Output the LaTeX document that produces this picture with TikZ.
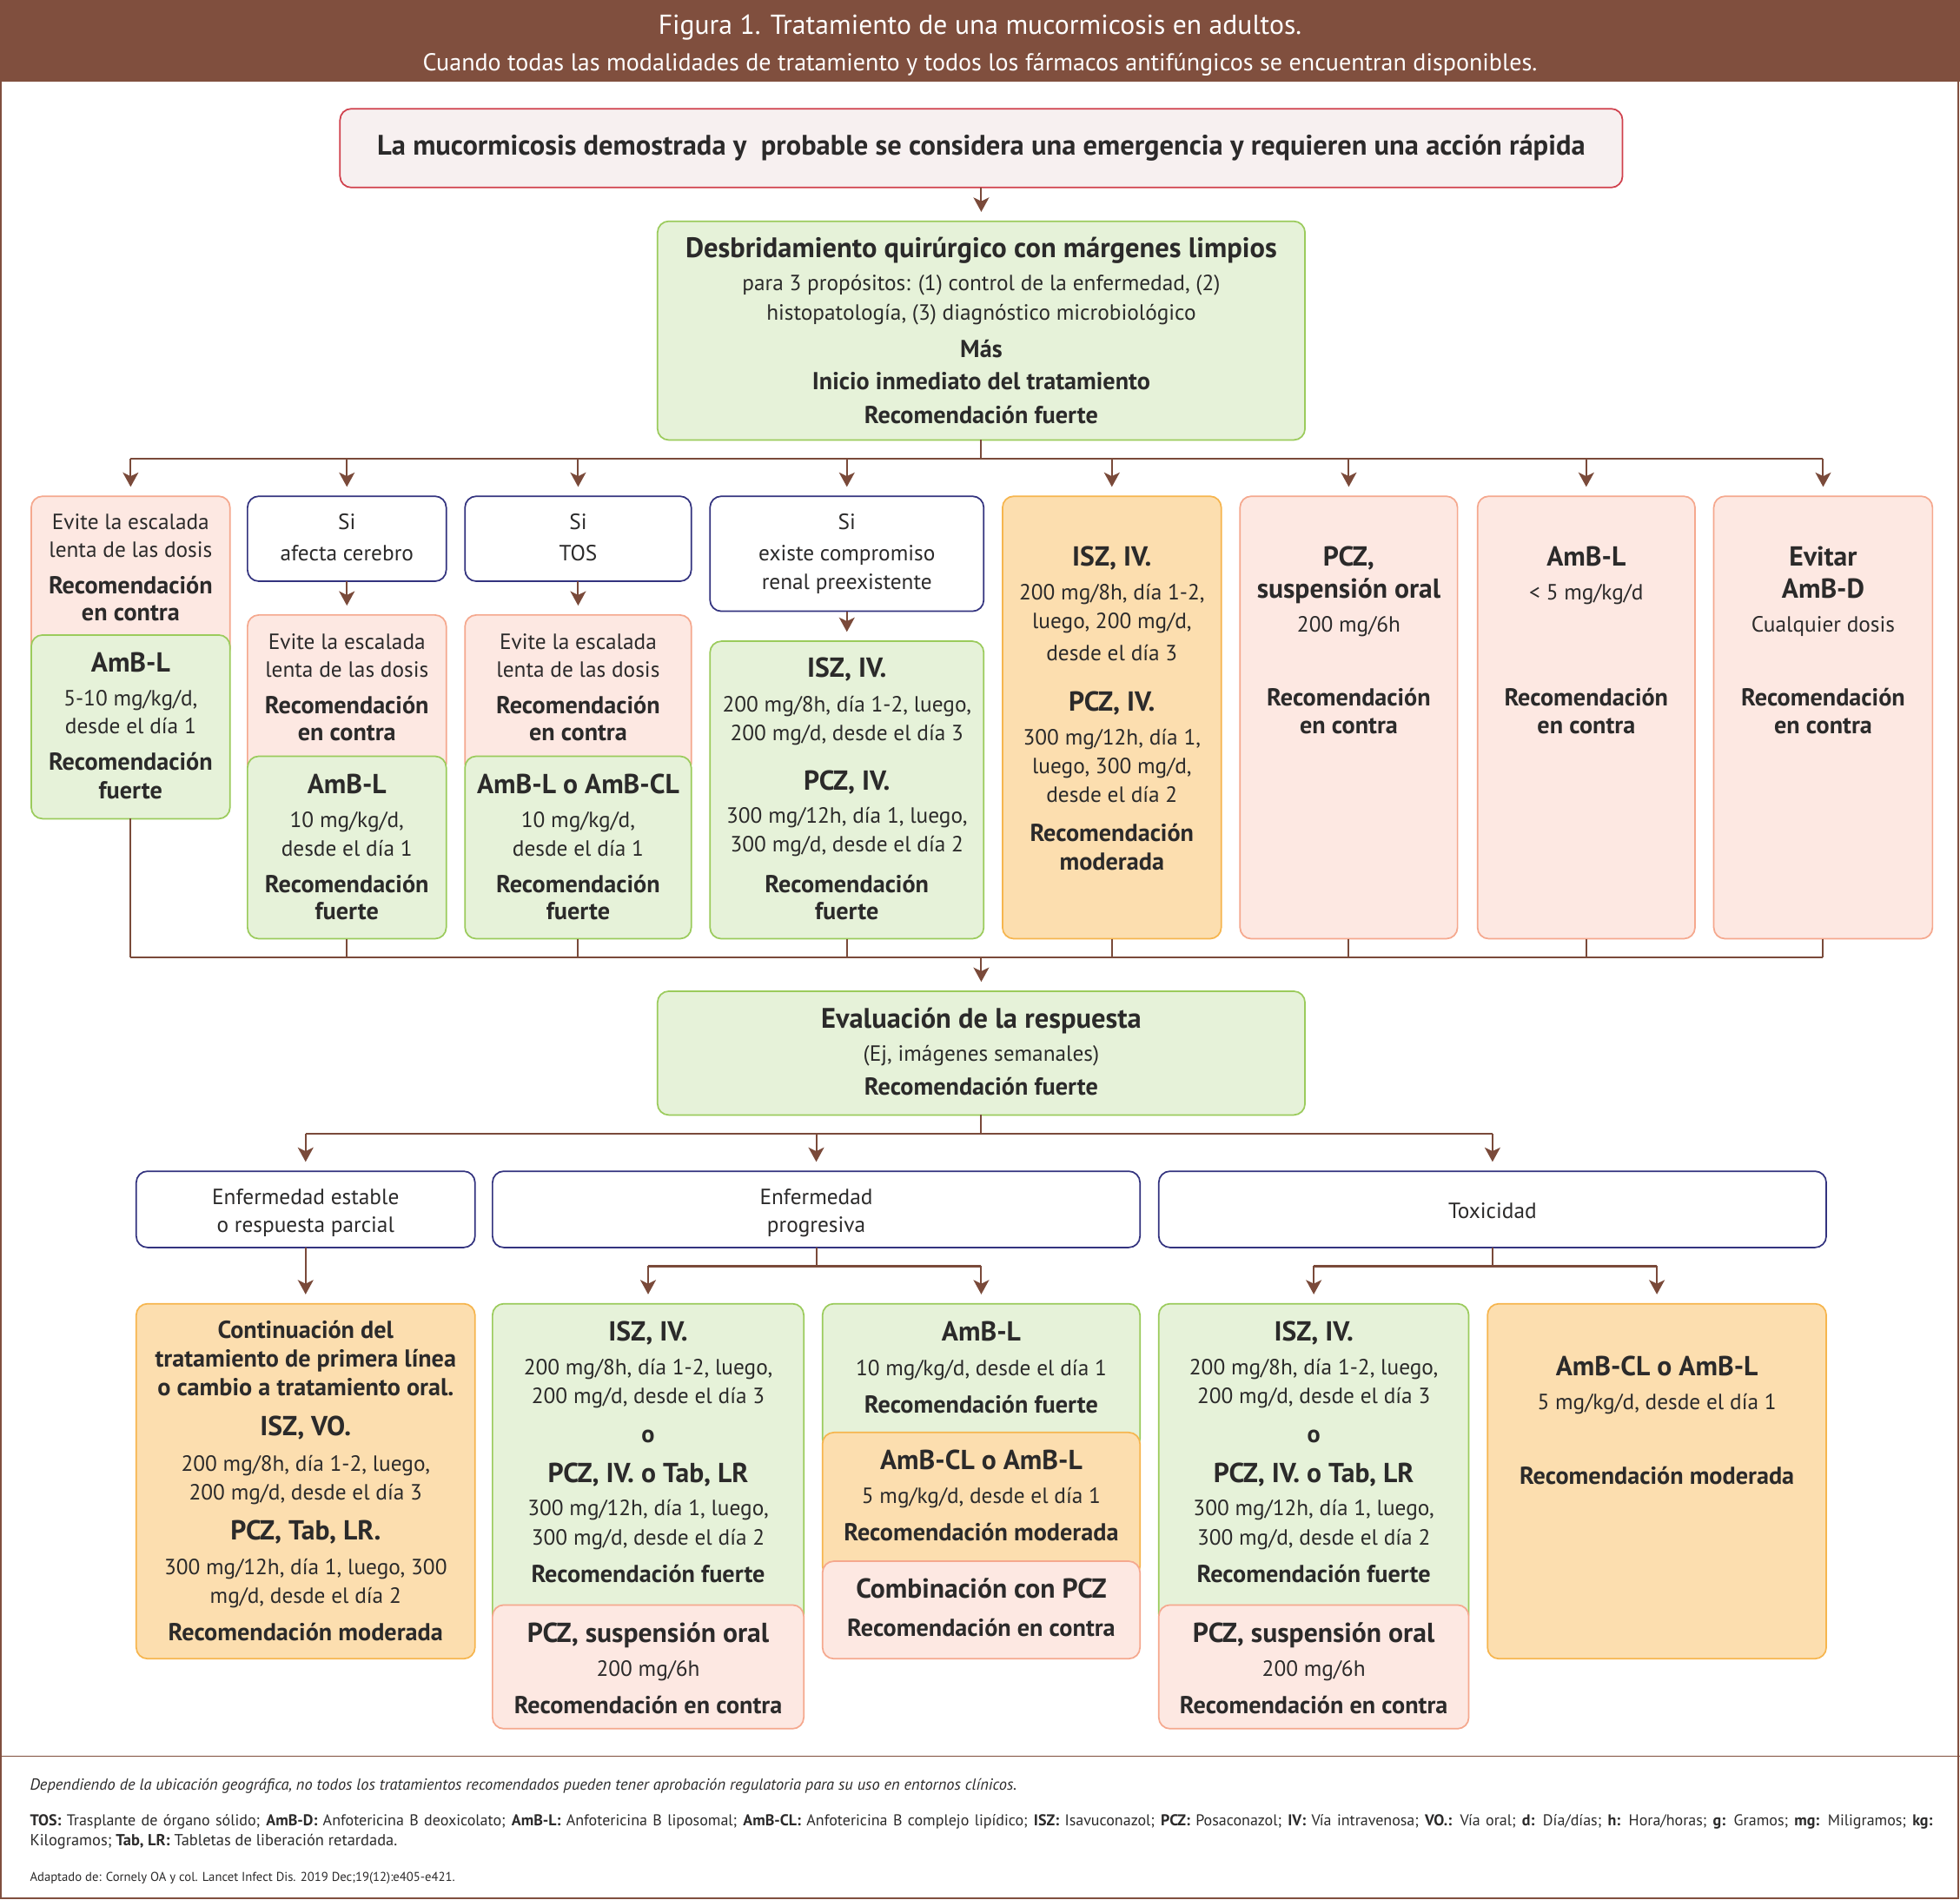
\documentclass[tikz,border=0pt]{standalone}
\usepackage{fontspec}
\setmainfont{PT Sans}
\usetikzlibrary{arrows.meta}
\definecolor{hdr}{HTML}{804F3E}
\definecolor{conn}{HTML}{7A4A3A}
\definecolor{gfill}{HTML}{E6F2D9}
\definecolor{gline}{HTML}{9BCB5C}
\definecolor{pfill}{HTML}{FDE8E2}
\definecolor{pline}{HTML}{F5A88E}
\definecolor{ofill}{HTML}{FCDEAF}
\definecolor{oline}{HTML}{F6B54E}
\definecolor{nline}{HTML}{33337F}
\definecolor{rfill}{HTML}{F7F0F0}
\definecolor{rline}{HTML}{D0404C}
\definecolor{txt}{HTML}{2B2A2A}
\newcounter{tn}
\newcommand\txtline[4][fr]{\stepcounter{tn}\node[#1] (t\arabic{tn}) at (#2,#3) {#4};}
\newcommand\bx[6]{\node[#1, minimum width={(#5)-(#3)}, minimum height={(#6)-(#4)}] (#2) at ({((#3)+(#5))/2},{((#4)+(#6))/2}) {};}
\tikzset{
 x=1pt, y=-1pt,
 box/.style={rectangle, rounded corners=9pt, line width=1.2pt, inner sep=0pt, outer sep=0pt},
 gbox/.style={box, draw=gline, fill=gfill},
 pbox/.style={box, draw=pline, fill=pfill},
 obox/.style={box, draw=oline, fill=ofill},
 wbox/.style={box, draw=nline, fill=white},
 rbox/.style={box, draw=rline, fill=rfill},
 tbase/.style={inner sep=0pt, outer sep=0pt, text=txt, text height=0.56em, text depth=0pt, anchor=center, yshift=-4pt},
 fr/.style={tbase, font=\fontsize{17.6}{20}\selectfont},
 fb/.style={tbase, font=\fontsize{19.6}{22}\selectfont\bfseries},
 fh/.style={tbase, font=\fontsize{22}{25}\selectfont\bfseries},
 fH/.style={tbase, font=\fontsize{22.6}{26}\selectfont\bfseries},
 hd1/.style={tbase, text=white, font=\fontsize{22}{25}\selectfont},
 hd2/.style={tbase, text=white, font=\fontsize{19.5}{22}\selectfont},
 fn/.style={tbase, anchor=west, yshift=2pt, font=\fontsize{12.8}{15}\selectfont},
 fnl/.style={tbase, anchor=west, yshift=2pt, font=\fontsize{12.5}{15}\selectfont},
 fns/.style={tbase, anchor=west, yshift=2pt, font=\fontsize{10.2}{12}\selectfont},
 ln/.style={draw=conn, line width=1.4pt},
 arr/.style={ln, -{Stealth[length=11.5pt,width=12.5pt,inset=3pt]}, shorten >=7.5pt},
}
\begin{document}
\begin{tikzpicture}
\useasboundingbox (0,0) rectangle (1568,1519.35);
% header and frame
\fill[hdr] (0,0) rectangle (1568,65);
\draw[hdr, line width=1.2pt] (0.6,65) -- (0.6,1518.7) -- (1566.8,1518.7) -- (1566.8,65);
\draw[hdr, line width=1pt] (0,1405) -- (1568,1405);
\txtline[hd1]{784}{21}{Figura 1. Tratamiento de una mucormicosis en adultos.}
\txtline[hd2]{784}{50}{Cuando todas las modalidades de tratamiento y todos los fármacos antifúngicos se encuentran disponibles.}

% boxes
\bx{rbox}{top}{272}{87}{1298}{150}
\bx{gbox}{desb}{526}{177}{1044}{352}
\bx{pbox}{c1a}{25}{397}{184}{528}
\bx{gbox}{c1b}{25}{508}{184}{655}
\bx{wbox}{c2a}{198}{397}{357}{465}
\bx{pbox}{c2b}{198}{492}{357}{620}
\bx{gbox}{c2c}{198}{605}{357}{751}
\bx{wbox}{c3a}{372}{397}{553}{465}
\bx{pbox}{c3b}{372}{492}{553}{620}
\bx{gbox}{c3c}{372}{605}{553}{751}
\bx{wbox}{c4a}{568}{397}{787}{489}
\bx{gbox}{c4b}{568}{513}{787}{751}
\bx{obox}{c5}{802}{397}{977}{751}
\bx{pbox}{c6}{992}{397}{1166}{751}
\bx{pbox}{c7}{1182}{397}{1356}{751}
\bx{pbox}{c8}{1371}{397}{1546}{751}
\bx{gbox}{eval}{526}{793}{1044}{892}
\bx{wbox}{r1}{109}{937}{380}{998}
\bx{wbox}{r2}{394}{937}{912}{998}
\bx{wbox}{r3}{927}{937}{1461}{998}
\bx{obox}{d1}{109}{1043}{380}{1327}
\bx{gbox}{d2a}{394}{1043}{643}{1300}
\bx{pbox}{d2b}{394}{1284}{643}{1383}
\bx{gbox}{d3a}{658}{1043}{912}{1160}
\bx{obox}{d3b}{658}{1146}{912}{1262}
\bx{pbox}{d3c}{658}{1249}{912}{1327}
\bx{gbox}{d4a}{927}{1043}{1175}{1300}
\bx{pbox}{d4b}{927}{1284}{1175}{1383}
\bx{obox}{d5}{1190}{1043}{1461}{1327}

% connectors
\coordinate (bus1) at (785,367);
\coordinate (bus2) at (785,766);
\coordinate (bus3) at (785,907);
\coordinate (bus4) at (653,1013);
\coordinate (bus5) at (1194,1013);
\draw[arr] (top.south) -- (desb.north);
\draw[ln] (desb.south) -- (bus1);
\draw[ln] (c1a.north |- bus1) -- (c8.north |- bus1);
\foreach \n in {c1a,c2a,c3a,c4a,c5,c6,c7,c8} \draw[arr] (\n.north |- bus1) -- (\n.north);
\draw[arr] (c2a.south) -- (c2b.north);
\draw[arr] (c3a.south) -- (c3b.north);
\draw[arr] (c4a.south) -- (c4b.north);
\foreach \n in {c1b,c2c,c3c,c4b,c5,c6,c7,c8} \draw[ln] (\n.south) -- (\n.south |- bus2);
\draw[ln] (c1b.south |- bus2) -- (c8.south |- bus2);
\draw[arr] (bus2) -- (eval.north);
\draw[ln] (eval.south) -- (bus3);
\draw[ln] (r1.north |- bus3) -- (r3.north |- bus3);
\foreach \n in {r1,r2,r3} \draw[arr] (\n.north |- bus3) -- (\n.north);
\draw[arr] (r1.south) -- (d1.north);
\draw[ln] (r2.south) -- (bus4);
\draw[ln] (d2a.north |- bus4) -- (d3a.north |- bus4);
\draw[arr] (d2a.north |- bus4) -- (d2a.north);
\draw[arr] (d3a.north |- bus4) -- (d3a.north);
\draw[ln] (r3.south) -- (bus5);
\draw[ln] (d4a.north |- bus5) -- (d5.north |- bus5);
\draw[arr] (d4a.north |- bus5) -- (d4a.north);
\draw[arr] (d5.north |- bus5) -- (d5.north);

% texts
\txtline[fH]{785}{117}{La mucormicosis demostrada y~ probable se considera una emergencia y requieren una acción rápida}
\txtline[fH]{785}{199}{Desbridamiento quirúrgico con márgenes limpios}
\txtline{785}{226}{para 3 propósitos: (1) control de la enfermedad, (2)}
\txtline{785}{249}{histopatología, (3) diagnóstico microbiológico}
\txtline[fb]{785}{279}{Más}
\txtline[fb]{785}{305}{Inicio inmediato del tratamiento}
\txtline[fb]{785}{332}{Recomendación fuerte}
% c1
\txtline{104.5}{417}{Evite la escalada}
\txtline{104.5}{439}{lenta de las dosis}
\txtline[fb]{104.5}{468}{Recomendación}
\txtline[fb]{104.5}{490}{en contra}
\txtline[fh]{104.5}{531}{AmB-L}
\txtline{104.5}{558}{5-10 mg/kg/d,}
\txtline{104.5}{580}{desde el día 1}
\txtline[fb]{104.5}{609}{Recomendación}
\txtline[fb]{104.5}{632}{fuerte}
% c2
\txtline{277.5}{417}{Si}
\txtline{277.5}{442}{afecta cerebro}
\txtline{277.5}{513}{Evite la escalada}
\txtline{277.5}{535}{lenta de las dosis}
\txtline[fb]{277.5}{564}{Recomendación}
\txtline[fb]{277.5}{586}{en contra}
\txtline[fh]{277.5}{628}{AmB-L}
\txtline{277.5}{655}{10 mg/kg/d,}
\txtline{277.5}{678}{desde el día 1}
\txtline[fb]{277.5}{707}{Recomendación}
\txtline[fb]{277.5}{729}{fuerte}
% c3
\txtline{462.5}{417}{Si}
\txtline{462.5}{442}{TOS}
\txtline{462.5}{513}{Evite la escalada}
\txtline{462.5}{535}{lenta de las dosis}
\txtline[fb]{462.5}{564}{Recomendación}
\txtline[fb]{462.5}{586}{en contra}
\txtline[fh]{462.5}{628}{AmB-L o AmB-CL}
\txtline{462.5}{655}{10 mg/kg/d,}
\txtline{462.5}{678}{desde el día 1}
\txtline[fb]{462.5}{707}{Recomendación}
\txtline[fb]{462.5}{729}{fuerte}
% c4
\txtline{677.5}{417}{Si}
\txtline{677.5}{442}{existe compromiso}
\txtline{677.5}{465}{renal preexistente}
\txtline[fh]{677.5}{535}{ISZ, IV.}
\txtline{677.5}{563}{200 mg/8h, día 1-2, luego,}
\txtline{677.5}{586}{200 mg/d, desde el día 3}
\txtline[fh]{677.5}{625}{PCZ, IV.}
\txtline{677.5}{652}{300 mg/12h, día 1, luego,}
\txtline{677.5}{675}{300 mg/d, desde el día 2}
\txtline[fb]{677.5}{707}{Recomendación}
\txtline[fb]{677.5}{729}{fuerte}
% c5
\txtline[fh]{889.5}{446}{ISZ, IV.}
\txtline{889.5}{473}{200 mg/8h, día 1-2,}
\txtline{889.5}{496}{luego, 200 mg/d,}
\txtline{889.5}{522}{desde el día 3}
\txtline[fh]{889.5}{562}{PCZ, IV.}
\txtline{889.5}{589}{300 mg/12h, día 1,}
\txtline{889.5}{612}{luego, 300 mg/d,}
\txtline{889.5}{635}{desde el día 2}
\txtline[fb]{889.5}{666}{Recomendación}
\txtline[fb]{889.5}{689}{moderada}
% c6
\txtline[fh]{1079}{446}{PCZ,}
\txtline[fh]{1079}{472}{suspensión oral}
\txtline{1079}{499}{200 mg/6h}
\txtline[fb]{1079}{558}{Recomendación}
\txtline[fb]{1079}{580}{en contra}
% c7
\txtline[fh]{1269}{446}{AmB-L}
\txtline{1269}{473}{< 5 mg/kg/d}
\txtline[fb]{1269}{558}{Recomendación}
\txtline[fb]{1269}{580}{en contra}
% c8
\txtline[fh]{1458.5}{446}{Evitar}
\txtline[fh]{1458.5}{472}{AmB-D}
\txtline{1458.5}{499}{Cualquier dosis}
\txtline[fb]{1458.5}{558}{Recomendación}
\txtline[fb]{1458.5}{580}{en contra}
% eval
\txtline[fH]{785}{816}{Evaluación de la respuesta}
\txtline{785}{842}{(Ej, imágenes semanales)}
\txtline[fb]{785}{869}{Recomendación fuerte}
% row
\txtline{244.5}{957}{Enfermedad estable}
\txtline{244.5}{979}{o respuesta parcial}
\txtline{653}{957}{Enfermedad}
\txtline{653}{979}{progresiva}
\txtline{1194}{968}{Toxicidad}
% d1
\txtline[fb]{244.5}{1064}{Continuación del}
\txtline[fb]{244.5}{1087}{tratamiento de primera línea}
\txtline[fb]{244.5}{1110}{o cambio a tratamiento oral.}
\txtline[fh]{244.5}{1142}{ISZ, VO.}
\txtline{244.5}{1170}{200 mg/8h, día 1-2, luego,}
\txtline{244.5}{1193}{200 mg/d, desde el día 3}
\txtline[fh]{244.5}{1225}{PCZ, Tab, LR.}
\txtline{244.5}{1253}{300 mg/12h, día 1, luego, 300}
\txtline{244.5}{1276}{mg/d, desde el día 2}
\txtline[fb]{244.5}{1306}{Recomendación moderada}
% d2
\txtline[fh]{518.5}{1066}{ISZ, IV.}
\txtline{518.5}{1093}{200 mg/8h, día 1-2, luego,}
\txtline{518.5}{1116}{200 mg/d, desde el día 3}
\txtline[fb]{518.5}{1147}{o}
\txtline[fh]{518.5}{1179}{PCZ, IV. o Tab, LR}
\txtline{518.5}{1206}{300 mg/12h, día 1, luego,}
\txtline{518.5}{1229}{300 mg/d, desde el día 2}
\txtline[fb]{518.5}{1259}{Recomendación fuerte}
\txtline[fh]{518.5}{1307}{PCZ, suspensión oral}
\txtline{518.5}{1334}{200 mg/6h}
\txtline[fb]{518.5}{1364}{Recomendación en contra}
% d3
\txtline[fh]{785}{1066}{AmB-L}
\txtline{785}{1094}{10 mg/kg/d, desde el día 1}
\txtline[fb]{785}{1124}{Recomendación fuerte}
\txtline[fh]{785}{1169}{AmB-CL o AmB-L}
\txtline{785}{1196}{5 mg/kg/d, desde el día 1}
\txtline[fb]{785}{1226}{Recomendación moderada}
\txtline[fh]{785}{1272}{Combinación con PCZ}
\txtline[fb]{785}{1302}{Recomendación en contra}
% d4
\txtline[fh]{1051}{1066}{ISZ, IV.}
\txtline{1051}{1093}{200 mg/8h, día 1-2, luego,}
\txtline{1051}{1116}{200 mg/d, desde el día 3}
\txtline[fb]{1051}{1147}{o}
\txtline[fh]{1051}{1179}{PCZ, IV. o Tab, LR}
\txtline{1051}{1206}{300 mg/12h, día 1, luego,}
\txtline{1051}{1229}{300 mg/d, desde el día 2}
\txtline[fb]{1051}{1259}{Recomendación fuerte}
\txtline[fh]{1051}{1307}{PCZ, suspensión oral}
\txtline{1051}{1334}{200 mg/6h}
\txtline[fb]{1051}{1364}{Recomendación en contra}
% d5
\txtline[fh]{1325.5}{1094}{AmB-CL o AmB-L}
\txtline{1325.5}{1121}{5 mg/kg/d, desde el día 1}
\txtline[fb]{1325.5}{1181}{Recomendación moderada}
% footnotes
\txtline[fn]{24}{1427}{\itshape Dependiendo de la ubicación geográfica, no todos los tratamientos recomendados pueden tener aprobación regulatoria para su uso en entornos clínicos.}
\txtline[fnl]{24}{1456}{\makebox[1522pt][s]{\textbf{TOS:} Trasplante de órgano sólido; \textbf{AmB-D:} Anfotericina B deoxicolato; \textbf{AmB-L:} Anfotericina B liposomal; \textbf{AmB-CL:} Anfotericina B complejo lipídico; \textbf{ISZ:} Isavuconazol; \textbf{PCZ:} Posaconazol; \textbf{IV:} Vía intravenosa; \textbf{VO.:} Vía oral; \textbf{d:} Día/días; \textbf{h:} Hora/horas; \textbf{g:} Gramos; \textbf{mg:} Miligramos; \textbf{kg:}}}
\txtline[fn]{24}{1472}{Kilogramos; \textbf{Tab, LR:} Tabletas de liberación retardada.}
\txtline[fns]{24}{1500}{Adaptado de: Cornely OA y col. Lancet Infect Dis. 2019 Dec;19(12):e405-e421.}
\end{tikzpicture}
\end{document}
